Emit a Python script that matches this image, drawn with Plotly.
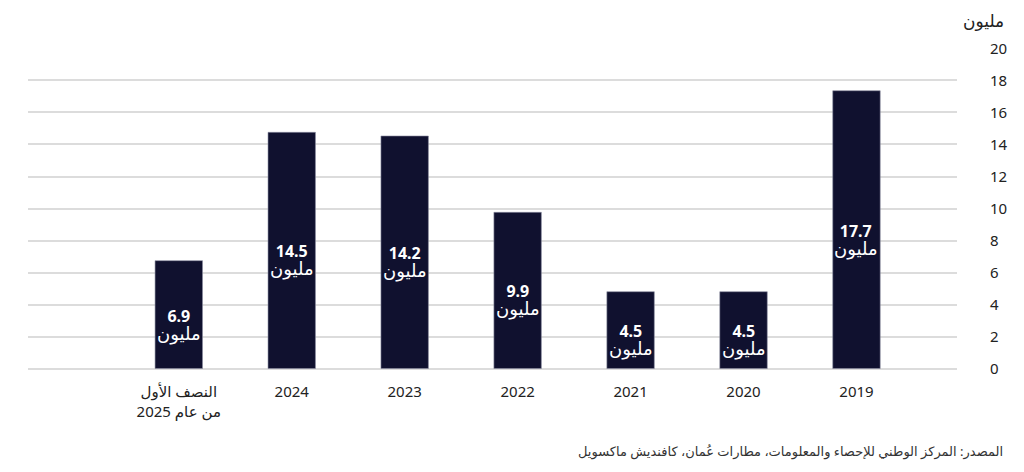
import plotly.graph_objects as go

categories = ["2019", "2020", "2021", "2022", "2023", "2024", "النصف الأول<br>من عام 2025"]
bar_heights = [17.36, 4.8, 4.8, 9.76, 14.53, 14.76, 6.74]
label_values = ["17.7", "4.5", "4.5", "9.9", "14.2", "14.5", "6.9"]
unit = "مليون"
y_ticks = list(range(0, 21, 2))
source = "المصدر: المركز الوطني للإحصاء والمعلومات، مطارات عُمان، كافنديش ماكسويل"

FONT = "Noto Sans, DejaVu Sans, sans-serif"

fig = go.Figure(go.Bar(
    x=categories,
    y=bar_heights,
    marker=dict(color="#10112f", line=dict(color="#8a8ca0", width=0.6)),
    width=0.42,
    hoverinfo="skip",
))

annotations = [
    dict(x=i, y=h / 2, xref="x", yref="y", yshift=-10,
         text=(f"<span style='font-size:16px'><b>{v}</b></span><br>"
               f"<span style='font-size:18px'>{unit}</span>"),
         showarrow=False, align="center", borderpad=0,
         font=dict(color="white", size=14, family=FONT))
    for i, (h, v) in enumerate(zip(bar_heights, label_values))
]
annotations += [
    dict(text=unit, xref="paper", yref="paper", x=1.0, y=1.0, xshift=48,
         yshift=28, xanchor="right", yanchor="middle", showarrow=False,
         borderpad=0, font=dict(size=17, color="#222222")),
    dict(text=source, xref="paper", yref="paper", x=1.0, y=0, xshift=48,
         yshift=-82, xanchor="right", yanchor="middle", showarrow=False,
         font=dict(size=13, color="#333333")),
]

fig.update_layout(
    width=1024, height=472,
    margin=dict(l=20, r=75, t=40, b=111),
    paper_bgcolor="white", plot_bgcolor="white",
    showlegend=False,
    font=dict(family=FONT, color="#222222"),
    xaxis=dict(
        type="category",
        range=[6 + 1.335, -0.89],
        tickfont=dict(size=15, color="#222222"),
        showgrid=False, showline=False, ticks="",
        ticklabelstandoff=12,
    ),
    yaxis=dict(
        side="right",
        range=[-0.03, 20.03],
        tickvals=y_ticks,
        tickfont=dict(size=15, color="#222222"),
        showgrid=True, gridcolor="#dcdcdc", gridwidth=2,
        zeroline=True, zerolinecolor="#dcdcdc", zerolinewidth=2,
        showline=False, ticks="",
        ticklabelstandoff=32,
    ),
    annotations=annotations,
)

fig.write_html("out.html")
